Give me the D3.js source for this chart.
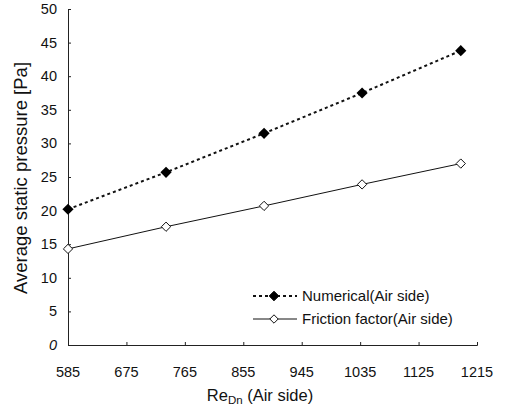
<!DOCTYPE html>
<html lang="en">
<head>
<meta charset="UTF-8">
<title>Average static pressure</title>
<script src="https://d3js.org/d3.v7.min.js"></script>
<style>
  body { margin: 0; background: #fff; }
  text { font-family: "Liberation Sans", Arial, sans-serif; fill: #111; }
</style>
</head>
<body>
<script>
// data
const reDn = [585, 736, 887, 1038, 1190]
const numerical = [20.2, 25.7, 31.5, 37.5, 43.8]
const friction = [14.3, 17.6, 20.7, 23.9, 27.0]
const xTicks = [585, 675, 765, 855, 945, 1035, 1125, 1215]
const yTicks = [0, 5, 10, 15, 20, 25, 30, 35, 40, 45, 50]
const seriesNames = ["Numerical(Air side)", "Friction factor(Air side)"]

const W = 505, H = 408
const svg = d3.select("body").append("svg").attr("width", W).attr("height", H)

const x = d3.scaleLinear().domain([585, 1215]).range([68, 477])
const y = d3.scaleLinear().domain([0, 50]).range([345, 9])

// y axis
const yAxis = svg.append("g").attr("transform", "translate(68,0)")
  .call(d3.axisRight(y).tickValues(yTicks).tickSize(3).tickFormat(""))
yAxis.select(".domain").attr("stroke", "#222")
yAxis.selectAll(".tick line").attr("stroke", "#222")
svg.append("g").selectAll("text").data(yTicks).join("text")
  .attr("x", 57).attr("y", d => y(d) + 5)
  .attr("text-anchor", "end").attr("font-size", 14.5)
  .attr("font-style", d => d === 0 ? "italic" : "normal")
  .text(d => d)

// x axis
const xAxis = svg.append("g").attr("transform", "translate(0,345)")
  .call(d3.axisTop(x).tickValues(xTicks).tickSize(3).tickFormat(""))
xAxis.select(".domain").attr("stroke", "#222")
xAxis.selectAll(".tick line").attr("stroke", "#222")
svg.append("g").selectAll("text").data(xTicks).join("text")
  .attr("x", d => x(d)).attr("y", 377)
  .attr("text-anchor", "middle").attr("font-size", 14.5)
  .text(d => d)

// axis titles
const xt = svg.append("text").attr("x", 260).attr("y", 401)
  .attr("text-anchor", "middle").attr("font-size", 16.5)
xt.append("tspan").text("Re")
xt.append("tspan").attr("font-size", 11.5).attr("dy", 3).text("Dn")
xt.append("tspan").attr("dy", -3).text(" (Air side)")

svg.append("text")
  .attr("transform", "translate(27,178) rotate(-90)")
  .attr("text-anchor", "middle").attr("font-size", 18.5)
  .text("Average static pressure [Pa]")

const line = d3.line().x(d => x(d[0])).y(d => y(d[1]))
const numPts = reDn.map((r, i) => [r, numerical[i]])
const friPts = reDn.map((r, i) => [r, friction[i]])

svg.append("path").datum(numPts).attr("d", line)
  .attr("fill", "none").attr("stroke", "#111").attr("stroke-width", 2)
  .attr("stroke-dasharray", "3,3")
svg.append("path").datum(friPts).attr("d", line)
  .attr("fill", "none").attr("stroke", "#111").attr("stroke-width", 1)

const diamond = d3.symbol().type(d3.symbolDiamond2)
svg.append("g").selectAll("path").data(numPts).join("path")
  .attr("transform", d => `translate(${x(d[0])},${y(d[1])})`)
  .attr("d", diamond.size(80)()).attr("fill", "#000")
svg.append("g").selectAll("path").data(friPts).join("path")
  .attr("transform", d => `translate(${x(d[0])},${y(d[1])})`)
  .attr("d", diamond.size(55)()).attr("fill", "#fff").attr("stroke", "#111").attr("stroke-width", 1)

// legend
const leg = svg.append("g")
const rows = [
  { name: seriesNames[0], y: 296, dash: "3,3", sw: 2, fill: "#000", size: 60 },
  { name: seriesNames[1], y: 319, dash: null, sw: 1, fill: "#fff", size: 45 }
]
rows.forEach(r => {
  leg.append("line").attr("x1", 253).attr("x2", 297).attr("y1", r.y).attr("y2", r.y)
    .attr("stroke", "#111").attr("stroke-width", r.sw).attr("stroke-dasharray", r.dash)
  leg.append("path").attr("transform", `translate(274,${r.y})`)
    .attr("d", diamond.size(r.size)()).attr("fill", r.fill).attr("stroke", "#111")
  leg.append("text").attr("x", 302).attr("y", r.y + 5).attr("font-size", 15).text(r.name)
})
</script>
</body>
</html>
